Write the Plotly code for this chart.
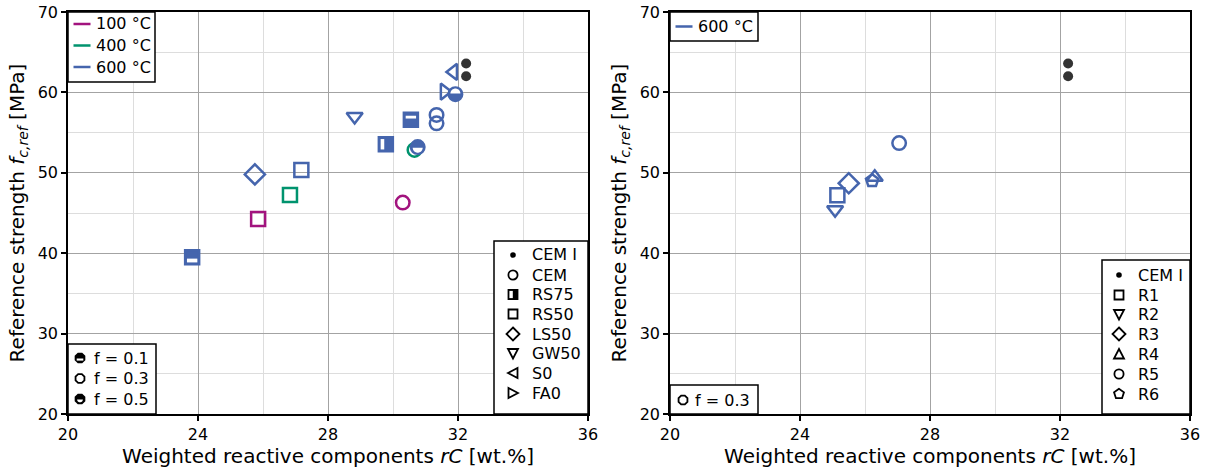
import numpy as np
import plotly.graph_objects as go

W, H = 1211, 470
FONT = "DejaVu Sans"

C100 = "#A2137E"
C400 = "#00936E"
C600 = "#4565AD"
CEMI = "#333333"

# ---------------- left panel: binders after exposure ----------------
cem1_x = [32.25, 32.25]
cem1_y = [63.6, 62.0]

t100_rs50_x, t100_rs50_y = [25.85], [44.25]
t100_cem_x, t100_cem_y = [30.3], [46.3]

t400_rs50_x, t400_rs50_y = [26.83], [47.25]
t400_cem_x, t400_cem_y = [30.66], [52.85]

t600_rs50_x, t600_rs50_y = [27.18], [50.35]
t600_ls50_x, t600_ls50_y = [25.75], [49.8]
t600_gw50_x, t600_gw50_y = [28.82], [57.0]
t600_s0_x, t600_s0_y = [31.86], [62.55]
t600_fa0_x, t600_fa0_y = [31.58], [60.1]
t600_cem_x, t600_cem_y = [31.34, 31.34], [57.2, 56.15]

# partially filled markers (fill level f)
t600_rs75_x, t600_rs75_y = [29.78], [53.55]
t600_rs50_f01_x, t600_rs50_f01_y = [30.55], [56.6]
t600_rs50_f05_x, t600_rs50_f05_y = [23.82], [39.5]
t600_cem_f05_x, t600_cem_f05_y = [30.76], [53.2]
t600_cem_f01_x, t600_cem_f01_y = [31.92], [59.78]

# ---------------- right panel: R-series at 600 °C ----------------
r_cem1_x = [32.25, 32.25]
r_cem1_y = [63.6, 62.0]
r1_x, r1_y = [25.15], [47.2]
r2_x, r2_y = [25.08], [45.4]
r3_x, r3_y = [25.5], [48.7]
r4_x, r4_y = [26.3], [49.45]
r5_x, r5_y = [27.05], [53.7]
r6_x, r6_y = [26.22], [49.0]

x_ticks = [20, 24, 28, 32, 36]
y_ticks = [20, 30, 40, 50, 60, 70]

temp_labels = ["100 °C", "400 °C", "600 °C"]
temp_colors = [C100, C400, C600]
f_labels = ["f = 0.1", "f = 0.3", "f = 0.5"]
mix_labels = ["CEM I", "CEM", "RS75", "RS50", "LS50", "GW50", "S0", "FA0"]
r_labels = ["CEM I", "R1", "R2", "R3", "R4", "R5", "R6"]

fig = go.Figure()


def points(xs, ys, symbol, color, size, ax, filled=False, lw=2.5):
    xa, ya = ("x", "y") if ax == 1 else ("x2", "y2")
    if filled:
        marker = dict(symbol=symbol, size=size, color=color,
                      line=dict(color=color, width=lw))
    else:
        marker = dict(symbol=symbol + "-open", size=size, color=color,
                      line=dict(width=lw))
    fig.add_trace(go.Scatter(x=xs, y=ys, mode="markers", marker=marker,
                             xaxis=xa, yaxis=ya, showlegend=False,
                             hoverinfo="skip"))


# left panel marks
points(t100_rs50_x, t100_rs50_y, "square", C100, 14, 1)
points(t100_cem_x, t100_cem_y, "circle", C100, 13.5, 1)
points(t400_rs50_x, t400_rs50_y, "square", C400, 14, 1)
points(t400_cem_x, t400_cem_y, "circle", C400, 13.5, 1)
points(t600_rs50_x, t600_rs50_y, "square", C600, 14, 1)
points(t600_ls50_x, t600_ls50_y, "diamond", C600, 15.5, 1)
points(t600_gw50_x, t600_gw50_y, "triangle-down", C600, 14, 1)
points(t600_s0_x, t600_s0_y, "triangle-left", C600, 14, 1)
points(t600_fa0_x, t600_fa0_y, "triangle-right", C600, 14, 1)
points(t600_cem_x, t600_cem_y, "circle", C600, 13.5, 1)
points(t600_rs75_x, t600_rs75_y, "square", C600, 14, 1, filled=True)
points(t600_rs50_f01_x, t600_rs50_f01_y, "square", C600, 14, 1, filled=True)
points(t600_rs50_f05_x, t600_rs50_f05_y, "square", C600, 14, 1, filled=True)
points(t600_cem_f05_x, t600_cem_f05_y, "circle", C600, 13.5, 1, filled=True)
points(t600_cem_f01_x, t600_cem_f01_y, "circle", C600, 13.5, 1, filled=True)
points(cem1_x, cem1_y, "circle", CEMI, 10, 1, filled=True, lw=0)

# right panel marks
points(r2_x, r2_y, "triangle-down", C600, 14, 2)
points(r1_x, r1_y, "square", C600, 14, 2)
points(r3_x, r3_y, "diamond", C600, 15.5, 2)
points(r4_x, r4_y, "triangle-up", C600, 14, 2)
points(r6_x, r6_y, "pentagon", C600, 13, 2)
points(r5_x, r5_y, "circle", C600, 13.5, 2)
points(r_cem1_x, r_cem1_y, "circle", CEMI, 10, 2, filled=True, lw=0)

shapes = []
annotations = []


def poly(pts):
    return "M" + " L".join(f"{x:.2f},{y:.2f}" for x, y in pts) + " Z"


def half_disk(r, y0, side):
    # side=-1: lower half disk below y0, side=+1: upper half disk above y0
    t = np.linspace(0, np.pi, 25)
    pts = [(r * np.cos(a), y0 + side * r * np.sin(a)) for a in t]
    return poly(pts)


def regular(n, r, start):
    a = np.deg2rad(start + 360.0 / n * np.arange(n))
    return poly(list(zip(r * np.cos(a), r * np.sin(a))))


def pix(xref, yref, ax, ay, **kw):
    d = dict(xref=xref, yref=yref, xsizemode="pixel", ysizemode="pixel",
             xanchor=ax, yanchor=ay, layer="above")
    d.update(kw)
    return d


WHITE = dict(fillcolor="white", line=dict(width=0))

# unfilled parts of the partially filled data markers
for x, y in zip(t600_rs75_x, t600_rs75_y):
    shapes.append(pix("x", "y", x, y, type="rect", x0=-5.2, x1=-1.6, y0=-5.2, y1=5.2, **WHITE))
for x, y in zip(t600_rs50_f01_x, t600_rs50_f01_y):
    shapes.append(pix("x", "y", x, y, type="rect", x0=-5.2, x1=5.2, y0=1.2, y1=4.0, **WHITE))
for x, y in zip(t600_rs50_f05_x, t600_rs50_f05_y):
    shapes.append(pix("x", "y", x, y, type="rect", x0=-5.2, x1=5.2, y0=-5.2, y1=-1.4, **WHITE))
for x, y in zip(t600_cem_f05_x, t600_cem_f05_y):
    shapes.append(pix("x", "y", x, y, type="path", path=half_disk(5.0, -0.6, -1), **WHITE))
for x, y in zip(t600_cem_f01_x, t600_cem_f01_y):
    shapes.append(pix("x", "y", x, y, type="path", path=half_disk(5.0, 0.6, 1), **WHITE))


# ---------------- legends (pixel layout) ----------------
def px(v):
    return v / W


def py(v):
    return 1 - v / H


def box(x0, y0, x1, y1):
    shapes.append(dict(type="rect", xref="paper", yref="paper",
                       x0=px(x0), x1=px(x1), y0=py(y1), y1=py(y0),
                       line=dict(color="black", width=1.5),
                       fillcolor="white", layer="above"))


def label(x, y, text):
    annotations.append(dict(x=px(x), y=py(y), xref="paper", yref="paper",
                            text=text, showarrow=False, xanchor="left",
                            yanchor="middle",
                            font=dict(family=FONT, size=16, color="black")))


def sym(cx, cy, kind, color="black"):
    X, Y = px(cx), py(cy)
    outline = dict(fillcolor="white", line=dict(color=color, width=1.8))
    solid = dict(fillcolor=color, line=dict(color=color, width=1.8))
    if kind == "line":
        shapes.append(pix("paper", "paper", X, Y, type="line", x0=-8.5, x1=8.5,
                          y0=0, y1=0, line=dict(color=color, width=2.5)))
    elif kind == "dot":
        shapes.append(pix("paper", "paper", X, Y, type="circle", x0=-2.8, x1=2.8,
                          y0=-2.8, y1=2.8, fillcolor=color, line=dict(width=0)))
    elif kind == "circle":
        shapes.append(pix("paper", "paper", X, Y, type="circle", x0=-4.6, x1=4.6,
                          y0=-4.6, y1=4.6, **outline))
    elif kind == "square":
        shapes.append(pix("paper", "paper", X, Y, type="rect", x0=-4.5, x1=4.5,
                          y0=-4.5, y1=4.5, **outline))
    elif kind == "square_half":
        shapes.append(pix("paper", "paper", X, Y, type="rect", x0=-4.5, x1=4.5,
                          y0=-4.5, y1=4.5, **solid))
        shapes.append(pix("paper", "paper", X, Y, type="rect", x0=-3.6, x1=-0.2,
                          y0=-3.6, y1=3.6, **WHITE))
    elif kind == "diamond":
        shapes.append(pix("paper", "paper", X, Y, type="path",
                          path=poly([(0, 6.5), (6.5, 0), (0, -6.5), (-6.5, 0)]), **outline))
    elif kind == "tri_down":
        shapes.append(pix("paper", "paper", X, Y, type="path",
                          path=poly([(-5, 4.5), (5, 4.5), (0, -5)]), **outline))
    elif kind == "tri_up":
        shapes.append(pix("paper", "paper", X, Y, type="path",
                          path=poly([(-5, -4.5), (5, -4.5), (0, 5)]), **outline))
    elif kind == "tri_left":
        shapes.append(pix("paper", "paper", X, Y, type="path",
                          path=poly([(-5, 0), (4.5, 5), (4.5, -5)]), **outline))
    elif kind == "tri_right":
        shapes.append(pix("paper", "paper", X, Y, type="path",
                          path=poly([(5, 0), (-4.5, 5), (-4.5, -5)]), **outline))
    elif kind == "pentagon":
        shapes.append(pix("paper", "paper", X, Y, type="path",
                          path=regular(5, 5.2, 90), **outline))
    elif kind == "oct_open":
        shapes.append(pix("paper", "paper", X, Y, type="path",
                          path=regular(8, 4.8, 22.5), **outline))
    elif kind == "oct_band":
        shapes.append(pix("paper", "paper", X, Y, type="path",
                          path=regular(8, 4.8, 22.5), **solid))
        shapes.append(pix("paper", "paper", X, Y, type="rect", x0=-3.3, x1=3.3,
                          y0=-2.6, y1=-0.5, **WHITE))
    elif kind == "oct_low":
        shapes.append(pix("paper", "paper", X, Y, type="path",
                          path=regular(8, 4.8, 22.5), **solid))
        shapes.append(pix("paper", "paper", X, Y, type="path",
                          path=half_disk(2.9, -0.4, -1), **WHITE))


def legend(x0, y0, x1, y1, sx, tx, rows, kinds, texts, colors=None):
    box(x0, y0, x1, y1)
    for i, (cy, k, t) in enumerate(zip(rows, kinds, texts)):
        sym(sx, cy, k, colors[i] if colors else "black")
        label(tx, cy, t)


# left panel legends
legend(68, 12, 155, 82, 82, 94, [24, 45.5, 67], ["line"] * 3, temp_labels, temp_colors)
legend(68, 344, 156, 414, 80, 92, [358, 378.5, 399], ["oct_band", "oct_open", "oct_low"], f_labels)
legend(494, 241, 588, 414, 513, 530,
       [255, 275, 294.5, 314, 334, 353.5, 373, 393],
       ["dot", "circle", "square_half", "square", "diamond", "tri_down", "tri_left", "tri_right"],
       mix_labels)

# right panel legends
legend(670, 12, 758, 41, 684, 696, [26.5], ["line"], ["600 °C"], [C600])
legend(670, 385, 758, 414, 683, 693, [400], ["oct_open"], ["f = 0.3"])
legend(1102, 260, 1190, 414, 1119, 1136,
       [275, 295, 314.5, 334, 354, 374, 394],
       ["dot", "square", "tri_down", "diamond", "tri_up", "circle", "pentagon"],
       r_labels)

# ---------------- axes ----------------
ydom = [1 - 414 / H, 1 - 12 / H]
common_x = dict(range=[20, 36], tickvals=x_ticks, ticks="outside", ticklen=5,
                tickwidth=1.5, tickcolor="black", showline=True, mirror=True,
                linecolor="black", linewidth=1.5, zeroline=False, automargin=False,
                showgrid=True, gridcolor="#a3a3a3", gridwidth=1,
                minor=dict(dtick=2, showgrid=True, gridcolor="#dddddd", gridwidth=1),
                tickfont=dict(family=FONT, size=16, color="black"),
                title=dict(text="Weighted reactive components <i>rC</i> [wt.%]",
                           font=dict(family=FONT, size=20, color="black"), standoff=4))
common_y = dict(range=[20, 70], tickvals=y_ticks, ticks="outside", ticklen=5,
                tickwidth=1.5, tickcolor="black", showline=True, mirror=True,
                linecolor="black", linewidth=1.5, zeroline=False, automargin=False,
                showgrid=True, gridcolor="#a3a3a3", gridwidth=1,
                minor=dict(dtick=5, showgrid=True, gridcolor="#dddddd", gridwidth=1),
                tickfont=dict(family=FONT, size=16, color="black"),
                title=dict(text="Reference strength <i>f</i><sub><i>c,ref</i></sub> [MPa]",
                           font=dict(family=FONT, size=20, color="black"), standoff=8),
                domain=ydom)

fig.update_layout(
    width=W, height=H, autosize=False,
    margin=dict(l=0, r=0, t=0, b=0),
    paper_bgcolor="white", plot_bgcolor="white",
    font=dict(family=FONT, color="black"),
    xaxis=dict(domain=[68 / W, 588 / W], anchor="y", **common_x),
    yaxis=dict(anchor="x", **common_y),
    xaxis2=dict(domain=[670 / W, 1190 / W], anchor="y2", **common_x),
    yaxis2=dict(anchor="x2", **common_y),
    shapes=shapes,
    annotations=annotations,
    showlegend=False,
)

fig.write_html("out.html")
